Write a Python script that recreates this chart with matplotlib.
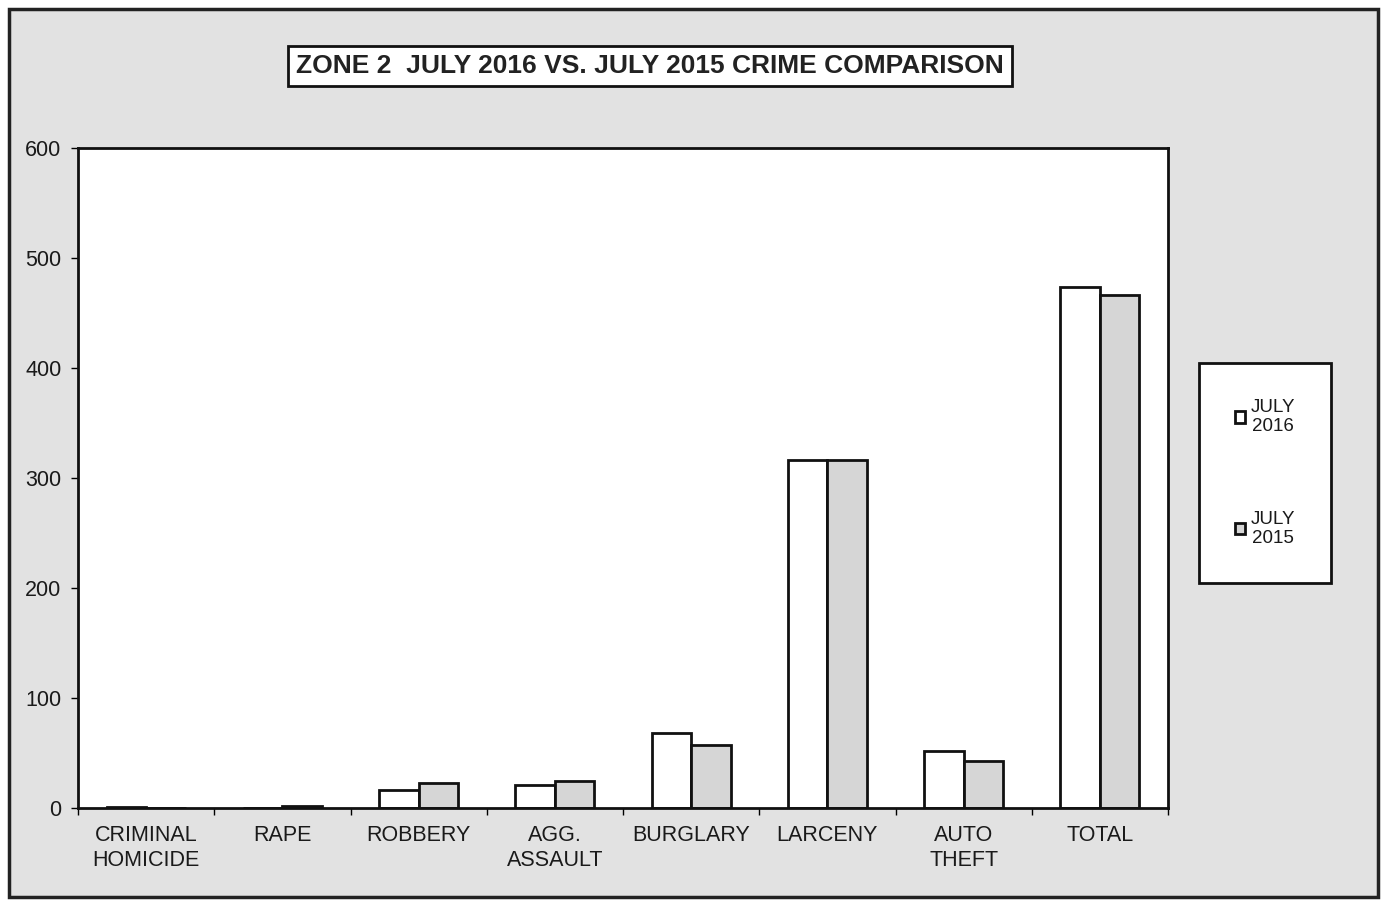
import matplotlib
matplotlib.use("Agg")
import matplotlib.pyplot as plt
import numpy as np
from matplotlib.patches import Rectangle

plt.rcParams['font.family'] = ['Liberation Sans', 'DejaVu Sans']

categories = ['CRIMINAL\nHOMICIDE', 'RAPE', 'ROBBERY', 'AGG.\nASSAULT',
              'BURGLARY', 'LARCENY', 'AUTO\nTHEFT', 'TOTAL']
july_2016 = [1, 0, 16, 21, 68, 316, 52, 474]
july_2015 = [0, 2, 23, 25, 57, 316, 43, 466]
series_labels = ['JULY\n2016', 'JULY\n2015']
title = 'ZONE 2  JULY 2016 VS. JULY 2015 CRIME COMPARISON'

W, H = 1384, 901
fig = plt.figure(figsize=(W / 100, H / 100), dpi=100)
fig.patch.set_facecolor('white')

# grey chart area with dark frame (behind the axes)
bg = Rectangle((9 / W, 1 - 897 / H), (1378 - 9) / W, (897 - 9) / H,
               transform=fig.transFigure, facecolor='#e2e2e2',
               edgecolor='#222222', linewidth=2.5, zorder=-5)
fig.add_artist(bg)

ax = fig.add_axes([78 / W, 1 - 808 / H, (1168 - 78) / W, (808 - 148) / H])
ax.set_facecolor('white')

x = np.arange(len(categories))
w = 0.29
b1 = ax.bar(x - w / 2, july_2016, w, color='white', edgecolor='#111111',
            linewidth=2, label=series_labels[0])
b2 = ax.bar(x + w / 2, july_2015, w, color='#d6d6d6', edgecolor='#111111',
            linewidth=2, label=series_labels[1])

ax.set_xlim(-0.5, len(categories) - 0.5)
ax.set_ylim(0, 600)
ax.set_yticks(np.arange(0, 601, 100))
ax.tick_params(axis='y', labelsize=15.5, length=5, width=1, pad=7,
               labelcolor='#1a1a1a')
ax.set_xticks(x)
ax.set_xticklabels(categories, fontsize=15.5, linespacing=1.3,
                   color='#1a1a1a')
ax.tick_params(axis='x', length=0, pad=12)
# tick marks at category boundaries
ax.set_xticks(np.arange(-0.5, len(categories), 1), minor=True)
ax.tick_params(axis='x', which='minor', length=5, width=1)
for s in ax.spines.values():
    s.set_linewidth(2)
    s.set_color('#111111')

fig.text(650 / W, 1 - 66 / H, title, ha='center', va='center', fontsize=19,
         fontweight='bold', color='#222222',
         bbox=dict(boxstyle='square,pad=0.3', facecolor='white',
                   edgecolor='#111111', linewidth=2))

leg = fig.legend(handles=[b1, b2], loc='center',
                 bbox_to_anchor=(1265 / W, 1 - 473 / H), fontsize=13.5,
                 frameon=True, fancybox=False, framealpha=1,
                 facecolor='white', handlelength=0.55,
                 handleheight=0.55, handletextpad=0.3, labelspacing=4.0,
                 borderpad=1.9, borderaxespad=0)
leg.get_frame().set_edgecolor('#111111')
leg.get_frame().set_linewidth(2)
for t in leg.get_texts():
    t.set_ha('center')
    t.set_color('#1a1a1a')

fig.savefig('out.png', dpi=100, facecolor=fig.get_facecolor())
